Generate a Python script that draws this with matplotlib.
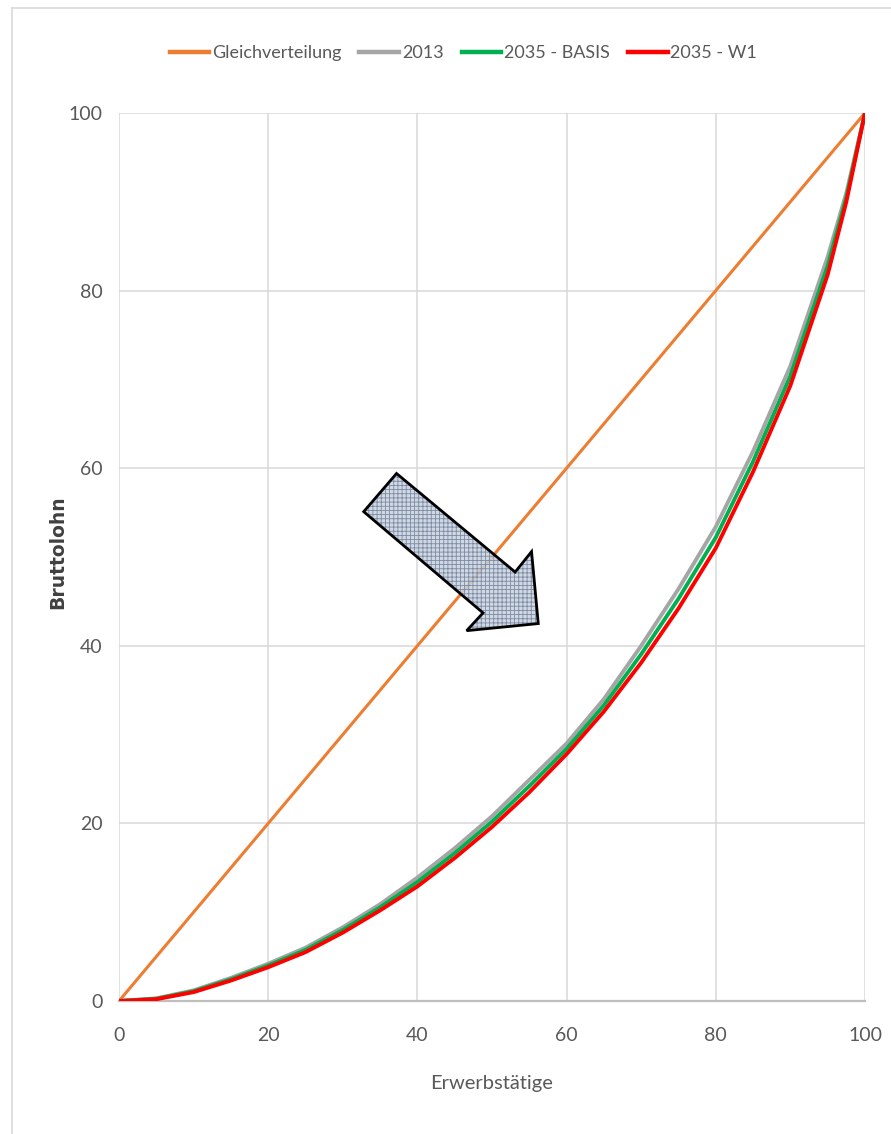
import numpy as np
import matplotlib.pyplot as plt
from matplotlib.patches import Polygon
from matplotlib.lines import Line2D

# data (share of workers vs share of gross wage, in %)
x_share = [0, 5, 10, 15, 20, 25, 30, 35, 40, 45, 50, 55, 60, 65, 70, 75, 80, 85, 90, 95, 97.5, 100]
y_2013 = [0, 0.3, 1.2, 2.6, 4.2, 6.0, 8.3, 10.9, 13.9, 17.2, 20.8, 24.9, 29.0, 34.0, 40.0, 46.4, 53.4, 61.9, 71.5, 83.8, 91.0, 100]
y_basis = [0, 0.25, 1.1, 2.45, 4.0, 5.75, 8.0, 10.55, 13.4, 16.65, 20.2, 24.2, 28.4, 33.3, 39.05, 45.3, 52.2, 60.75, 70.4, 82.8, 90.5, 100]
y_w1 = [0, 0.2, 1.0, 2.3, 3.8, 5.5, 7.7, 10.2, 12.9, 16.1, 19.6, 23.5, 27.8, 32.6, 38.1, 44.2, 51.0, 59.6, 69.3, 81.8, 90.0, 100]
x_equal = [0, 100]
y_equal = [0, 100]

labels = ['Gleichverteilung', '2013', '2035 - BASIS', '2035 - W1']
colors = ['#ED7D31', '#A5A5A5', '#00B050', '#FF0000']
ticks = [0, 20, 40, 60, 80, 100]

# arrow shape (annotation, data coords)
arrow_x = [37.2, 32.8, 48.8, 46.6, 56.2, 55.3, 53.1]
arrow_y = [59.4, 55.1, 43.7, 41.7, 42.5, 50.6, 48.3]

plt.rcParams['font.family'] = ['Lato', 'DejaVu Sans']
plt.rcParams['hatch.linewidth'] = 0.6

fig = plt.figure(figsize=(8.91, 11.34), dpi=100)
ax = fig.add_axes([0.1336, 0.1173, 0.8372, 0.7831])

ax.plot(x_equal, y_equal, color=colors[0], lw=2.2, label=labels[0], zorder=3)
ax.plot(x_share, y_2013, color=colors[1], lw=2.8, label=labels[1], zorder=4)
ax.plot(x_share, y_basis, color=colors[2], lw=2.8, label=labels[2], zorder=5)
ax.plot(x_share, y_w1, color=colors[3], lw=2.8, label=labels[3], zorder=6)

pts = np.column_stack([arrow_x, arrow_y])
ax.add_patch(Polygon(pts, closed=True, facecolor='#c8d2de', edgecolor='#6d7e98',
                     hatch='++++', lw=0, alpha=0.85, zorder=7))
ax.add_patch(Polygon(pts, closed=True, fill=False, edgecolor='black', lw=2.0, zorder=8))

ax.set_xlim(0, 100)
ax.set_ylim(0, 100)
ax.set_xticks(ticks)
ax.set_yticks(ticks)
ax.grid(True, color='#d9d9d9', lw=1.1)
ax.set_axisbelow(True)
for s in ['top', 'right', 'left']:
    ax.spines[s].set_visible(False)
ax.spines['bottom'].set_color('#bfbfbf')
ax.spines['bottom'].set_linewidth(1.6)
ax.tick_params(axis='both', length=0, labelsize=14, labelcolor='#595959')
ax.tick_params(axis='x', pad=19)
ax.tick_params(axis='y', pad=12)

ax.set_xlabel('Erwerbstätige', fontsize=14.5, color='#595959', labelpad=22)
fig.text(0.065, 0.513, 'Bruttolohn', rotation=90, ha='center', va='center',
         fontsize=13.5, fontweight='bold', color='#404040', family='DejaVu Sans')

leg = fig.legend(loc='center', bbox_to_anchor=(0.52, 0.953), ncol=4, frameon=False,
                 fontsize=13, labelcolor='#595959', handlelength=2.2,
                 handletextpad=0.15, columnspacing=1.0)
for h in leg.get_lines():
    h.set_linewidth(3.2)

# outer chart border (left and top edges visible)
fig.add_artist(Line2D([12 / 891, 12 / 891], [0, 1 - 8 / 1134], color='#d9d9d9', lw=1.2))
fig.add_artist(Line2D([12 / 891, 1], [1 - 8 / 1134, 1 - 8 / 1134], color='#d9d9d9', lw=1.2))

fig.savefig('out.png', dpi=100)
